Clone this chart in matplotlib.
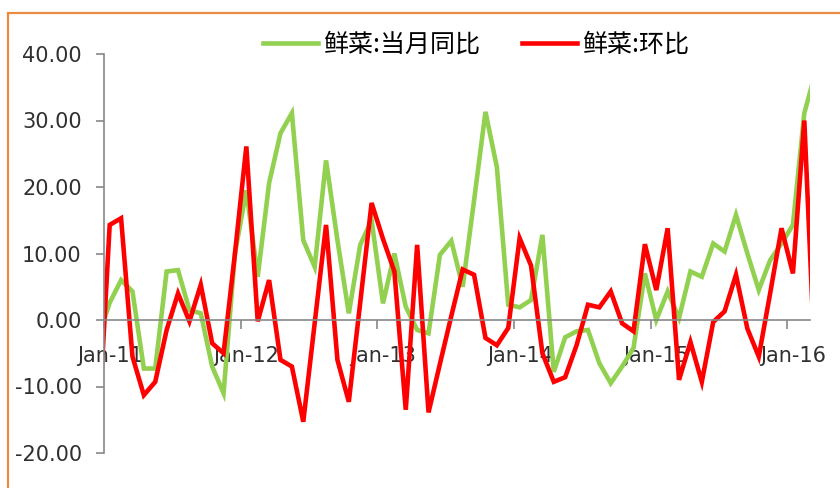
import numpy as np
import pandas as pd
import matplotlib
matplotlib.use("Agg")
import matplotlib.pyplot as plt
from matplotlib.patches import Rectangle
from matplotlib.ticker import FixedLocator, FixedFormatter, FormatStrFormatter

# monthly CPI fresh vegetables, Dec-10 .. Mar-16 (%)
months = pd.period_range("2010-12", "2016-03", freq="M")
yoy = [-2.6, 2.6, 6.0, 4.3, -7.3, -7.3, 7.3, 7.5, 1.5, 1.0, -7.0, -11.0, 10.0,
       19.5, 6.5, 20.6, 28.1, 31.1, 12.0, 8.0, 24.0, 12.0, 1.0, 11.3, 15.0,
       2.5, 10.0, 2.0, -1.5, -2.0, 9.8, 11.9, 5.0, 18.0, 31.3, 23.0, 2.3,
       1.9, 3.0, 12.8, -7.8, -2.6, -1.7, -1.5, -6.5, -9.5, -7.0, -4.2, 7.0,
       0.0, 4.3, 0.3, 7.3, 6.5, 11.5, 10.3, 15.8, 10.0, 4.5, 9.0, 11.5, 14.3,
       31.1, 37.4]
mom = [-17.0, 14.3, 15.3, -5.5, -11.3, -9.3, -1.5, 4.0, -0.2, 5.3, -3.5, -5.0,
       10.0, 26.1, -0.2, 6.0, -6.0, -7.0, -15.3, -0.5, 14.3, -6.0, -12.3, 2.6,
       17.6, 12.2, 7.3, -13.5, 11.3, -13.9, -6.6, 0.6, 7.6, 6.8, -2.7, -3.8,
       -1.2, 12.3, 8.2, -5.0, -9.3, -8.6, -3.8, 2.3, 1.9, 4.3, -0.5, -1.7,
       11.4, 4.5, 13.8, -9.0, -3.3, -9.3, -0.3, 1.3, 6.8, -1.3, -5.5, 4.0,
       13.8, 7.0, 30.0, -9.5]
names = ["鲜菜:当月同比", "鲜菜:环比"]
colors = ["#92D050", "#FF0000"]

# month axis: 0 = start of Jan-11, points sit mid-month
x = (months.year - 2011) * 12 + months.month - 1 + 0.5
jan = [m for m in months if m.month == 1 and m.year >= 2011]
jan_start = [(m.year - 2011) * 12 for m in jan]
jan_mid = [v + 0.5 for v in jan_start]
jan_labels = [m.strftime("%b-%y") for m in jan]

fig = plt.figure(figsize=(8.4, 4.88), dpi=100)
ax = fig.add_axes([104 / 840, 1 - 453 / 488, 706 / 840, 399 / 488])

for vals, name, c in zip([yoy, mom], names, colors):
    ax.plot(x, vals, color=c, lw=3.3, label=name, solid_joinstyle="miter")

ax.set_xlim(0, 62)
ax.set_ylim(-20, 40)

axis_gray = "#888888"
txt = "#303030"
for s in ["top", "right"]:
    ax.spines[s].set_visible(False)
ax.spines["bottom"].set_position(("data", 0))
ax.spines["bottom"].set_color(axis_gray)
ax.spines["left"].set_color(axis_gray)
ax.spines["bottom"].set_linewidth(1.2)
ax.spines["left"].set_linewidth(1.2)

ax.yaxis.set_major_locator(FixedLocator(np.arange(-20, 41, 10)))
ax.yaxis.set_major_formatter(FormatStrFormatter("%.2f"))
ax.tick_params(axis="y", direction="out", length=6, width=1.2,
               color=axis_gray, pad=10, labelsize=15, labelcolor=txt)

ax.xaxis.set_major_locator(FixedLocator(jan_start))
ax.xaxis.set_major_formatter(FixedFormatter([""] * len(jan_start)))
ax.xaxis.set_minor_locator(FixedLocator(jan_mid))
ax.xaxis.set_minor_formatter(FixedFormatter(jan_labels))
ax.tick_params(axis="x", which="major", direction="out", length=6.5,
               width=1.2, color=axis_gray)
ax.tick_params(axis="x", which="minor", length=0, pad=19, labelsize=15,
               labelcolor=txt)
for lab in ax.get_xticklabels(minor=True) + ax.get_yticklabels():
    lab.set_family("DejaVu Sans")

fig.legend(loc="center", bbox_to_anchor=(476 / 840, 1 - 45 / 488), ncol=2,
           frameon=False, handlelength=2.2, handletextpad=0.2,
           columnspacing=1.7,
           prop={"family": ["Noto Sans CJK SC", "DejaVu Sans"], "size": 18})

# outer chart frame
fig.add_artist(Rectangle((8 / 840, -0.1), 1.2, 1.1 - 13 / 488,
                         transform=fig.transFigure, fill=False,
                         edgecolor="#EB8B3F", lw=1.6))

fig.savefig("out.png", dpi=100)
